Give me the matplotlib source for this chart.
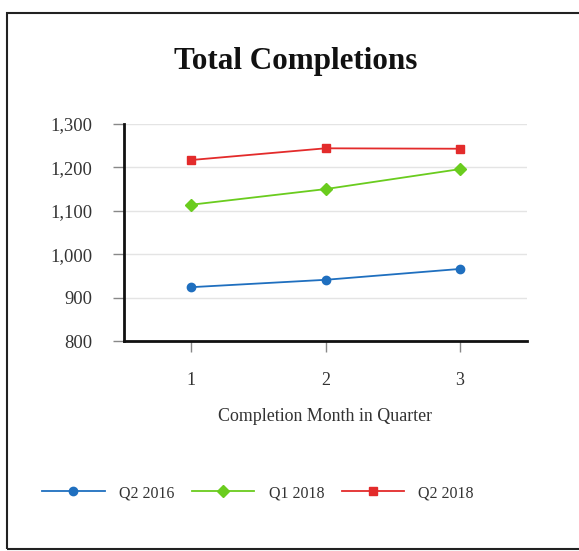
import numpy as np
import matplotlib.pyplot as plt
from matplotlib.patches import Rectangle

# data
months = [1, 2, 3]
q2_2016 = [924, 941, 966]
q1_2018 = [1114, 1150, 1196]
q2_2018 = [1217, 1244, 1243]
yticks = [800, 900, 1000, 1100, 1200, 1300]

plt.rcParams['font.family'] = ['Liberation Serif', 'DejaVu Serif']

W, H = 579, 551
fig = plt.figure(figsize=(W / 100, H / 100), dpi=100)

# outer frame
fig.patches.append(Rectangle((7 / W, 1 - 549 / H), 580 / W, 536 / H,
                             transform=fig.transFigure, fill=False,
                             edgecolor='#222222', linewidth=1.5))

ax = fig.add_axes([124 / W, 1 - 341 / H, 403 / W, 217 / H])

ax.plot(months, q2_2016, color='#1f6fbf', marker='o', markersize=6, linewidth=1.3, label='Q2 2016')
ax.plot(months, q1_2018, color='#6acc1e', marker='D', markersize=6, linewidth=1.3, label='Q1 2018')
ax.plot(months, q2_2018, color='#e32b2b', marker='s', markersize=6, linewidth=1.3, label='Q2 2018')

ax.set_xlim(0.5, 3.5)
ax.set_ylim(800, 1300)
ax.set_xticks(months)
ax.set_yticks(yticks)
ax.set_yticklabels([f'{v:,}' for v in yticks])
ax.grid(axis='y', color='#e4e4e4', linewidth=1)
ax.set_axisbelow(True)

for s in ['top', 'right']:
    ax.spines[s].set_visible(False)
for s in ['left', 'bottom']:
    ax.spines[s].set_linewidth(2)
    ax.spines[s].set_color('#111111')

ax.tick_params(axis='y', length=8, width=1, color='#888888', labelsize=13.3, pad=15, labelcolor='#333333')
ax.tick_params(axis='x', length=8, width=1, color='#888888', labelsize=13, pad=14, labelcolor='#333333')

ax.set_xlabel('Completion Month in Quarter', fontsize=12.9, color='#333333', labelpad=14)
fig.text(296 / W, 1 - 61 / H, 'Total Completions', ha='center', va='center',
         fontsize=22.4, fontweight='bold', color='#111111')

fig.legend(loc='center', bbox_to_anchor=(258 / W, 1 - 493 / H), ncol=3, frameon=False,
           fontsize=11.5, handlelength=3.9, columnspacing=1.1, handletextpad=0.9,
           labelcolor='#333333')

fig.savefig('out.png', dpi=100)
